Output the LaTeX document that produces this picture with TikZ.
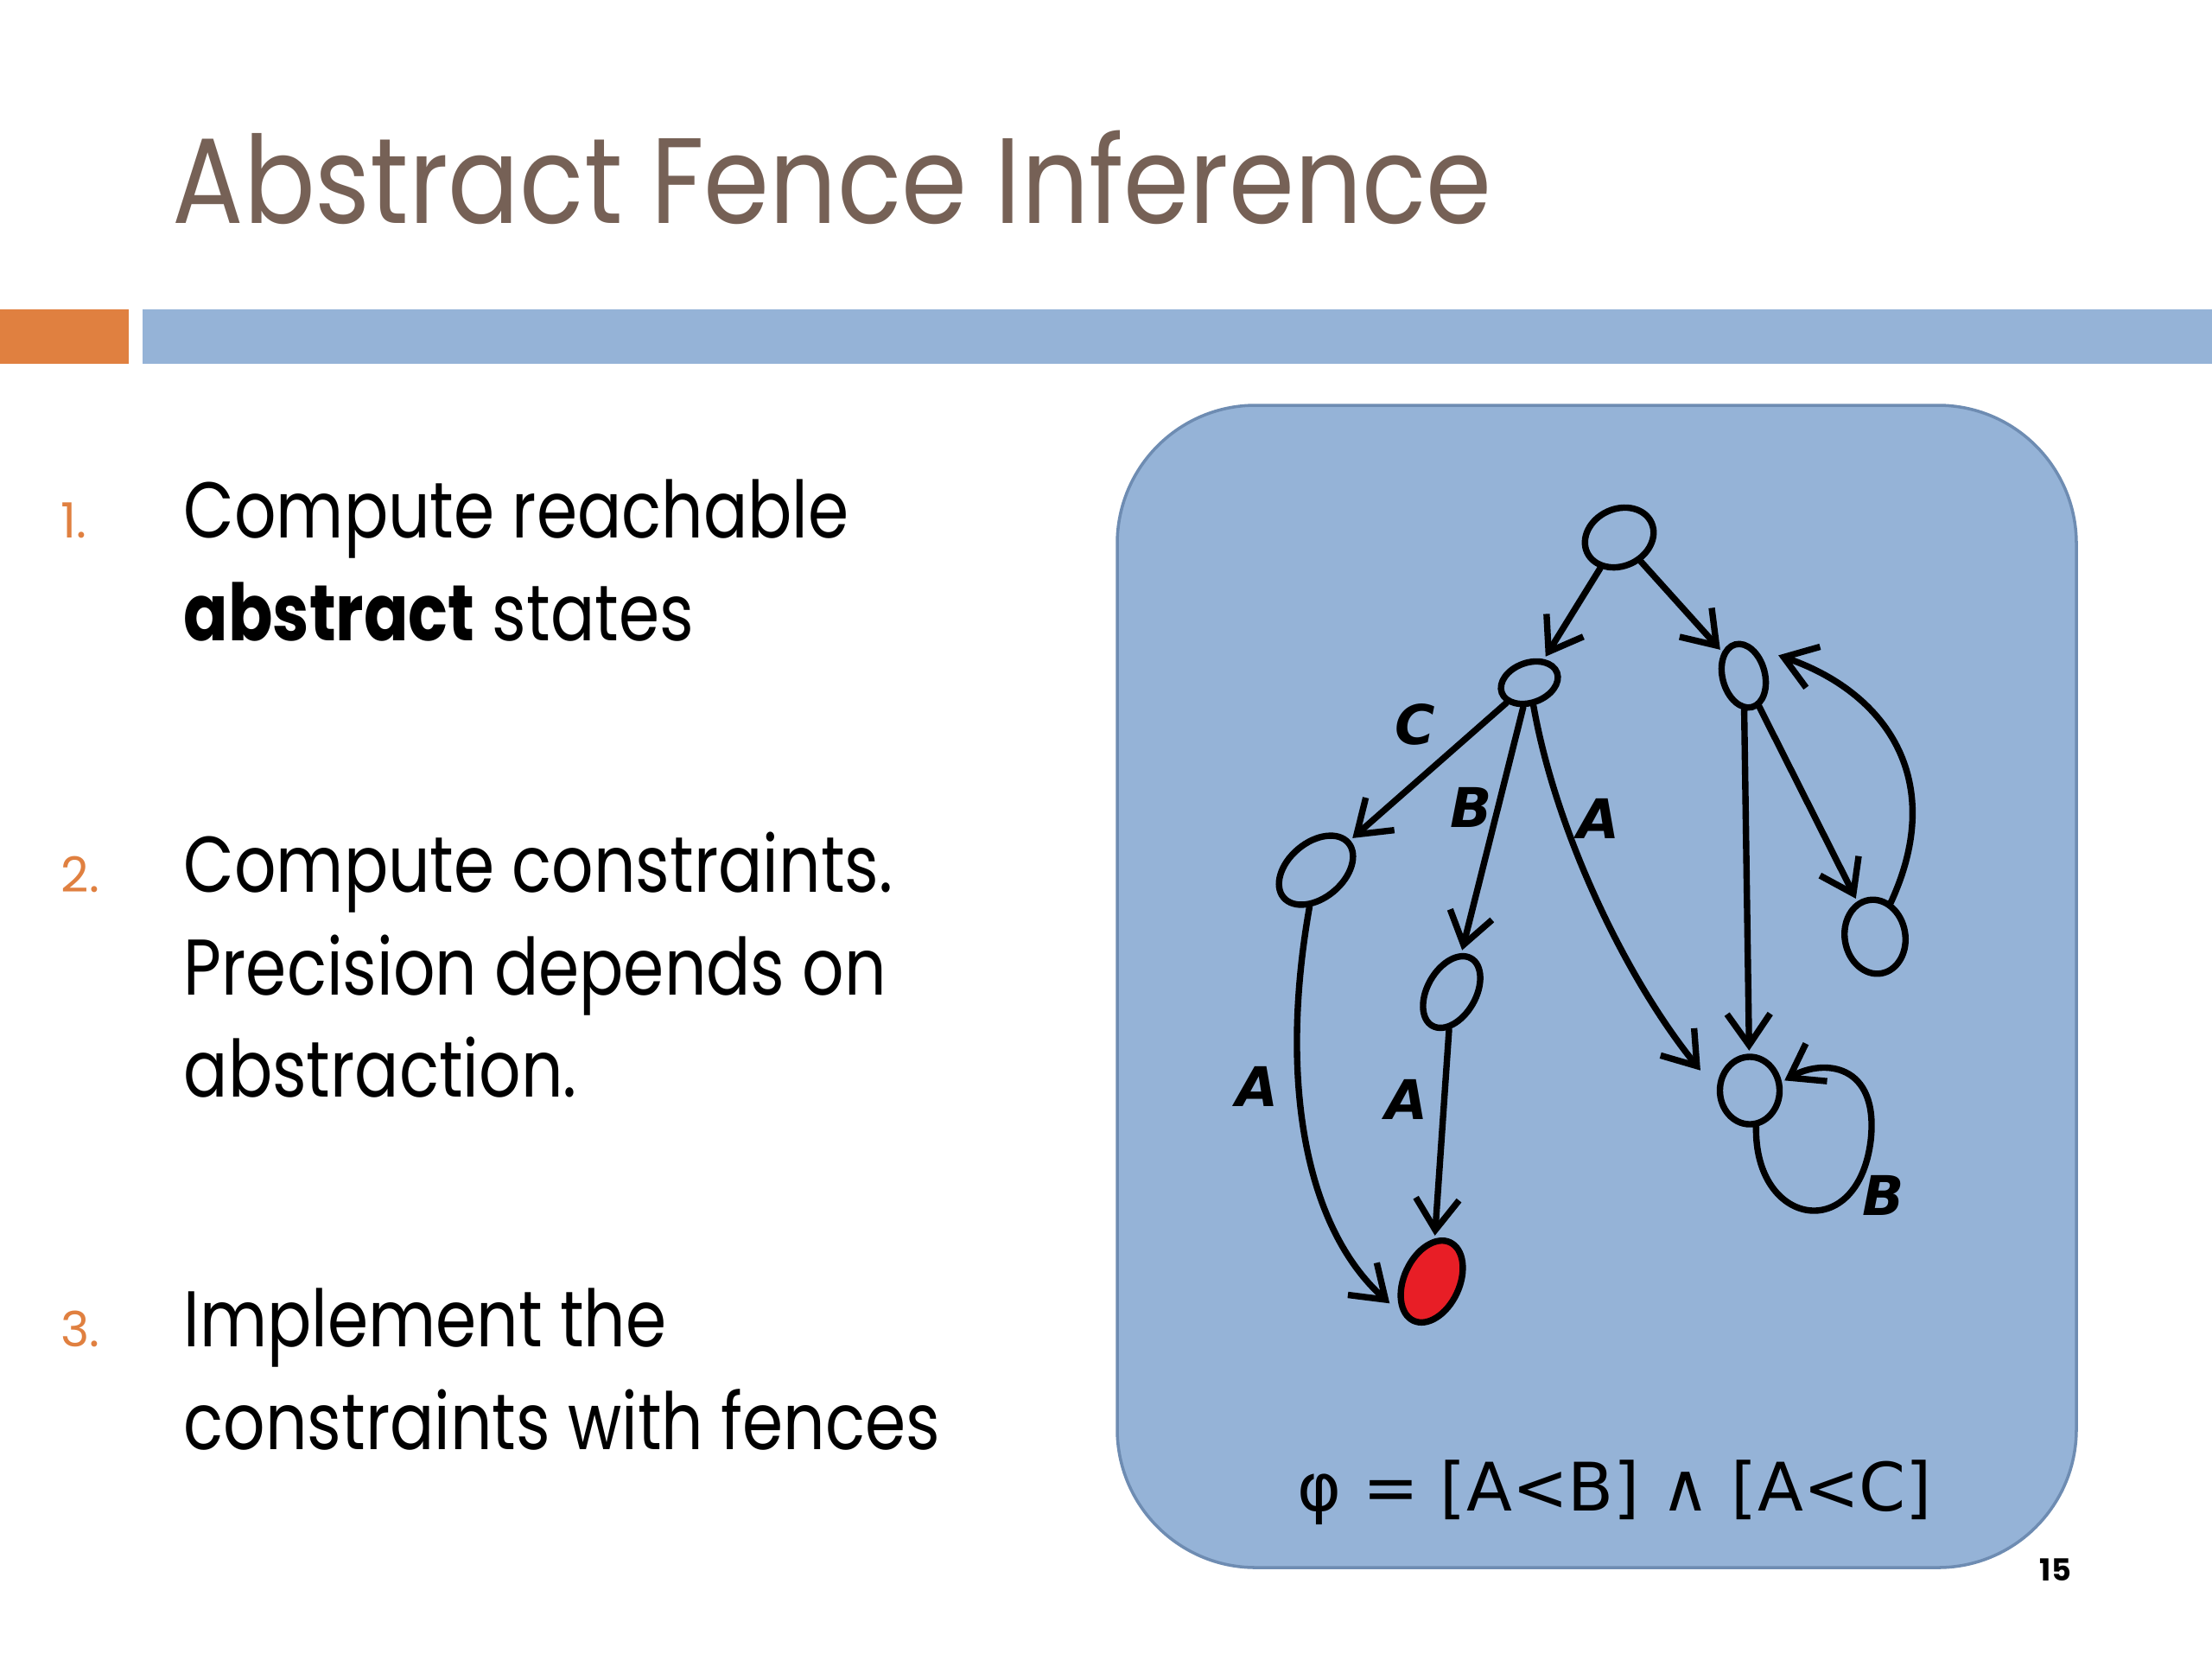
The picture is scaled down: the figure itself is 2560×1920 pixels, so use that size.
\documentclass[tikz,border=0pt]{standalone}
\usepackage{fontspec}
\setmainfont{Poppins}
\newfontfamily\titlefont{Poppins}[FakeStretch=0.87]
\newfontfamily\bodyfont{Poppins}[FakeStretch=0.83]
\newfontfamily\handfont{DejaVu Sans}
\usetikzlibrary{shapes.geometric,arrows.meta}
\definecolor{titlebrown}{RGB}{118,97,86}
\definecolor{accent}{RGB}{224,128,64}
\definecolor{barblue}{RGB}{149,179,215}
\definecolor{paneledge}{RGB}{110,140,178}
\definecolor{fault}{RGB}{232,30,38}
\begin{document}
\begin{tikzpicture}[x=0.01cm,y=0.01cm,
  state/.style={draw=black, line width=2.1pt, ellipse, inner sep=0pt},
  trans/.style={draw=black, line width=2.1pt, line cap=round, -{Straight Barb[length=0.36cm,width=0.5cm]}, shorten >=1pt},
  lbl/.style={font=\handfont\fontsize{18}{20}\selectfont\bfseries\itshape, inner sep=0pt},
  item/.style={anchor=base west, inner sep=0pt, font=\bodyfont\fontsize{26}{32}\selectfont},
  num/.style={anchor=base west, inner sep=0pt, text=accent, font=\fontsize{16}{19}\selectfont}
]
\useasboundingbox (0,0) rectangle (2560,-1920);
\fill[white] (0,0) rectangle (2560,-1920);
% title and bars
\node[anchor=base west, inner sep=0pt, text=titlebrown, font=\titlefont\fontsize{40}{48}\selectfont] (title) at (199,-258) {Abstract Fence Inference};
\fill[accent] (0,-358) rectangle (149,-421);
\fill[barblue] (165,-358) rectangle (2560,-421);
% list
\node[num] (n1lab) at (70,-622) {1.};
\node[item] (l1a) at (212,-622) {Compute reachable};
\node[item] (l1b) at (212,-741) {\textbf{abstract} states};
\node[num] (n2lab) at (70,-1032) {2.};
\node[item] (l2a) at (212,-1032) {Compute constraints.};
\node[item] (l2b) at (212,-1151) {Precision depends on};
\node[item] (l2c) at (212,-1269) {abstraction.};
\node[num] (n3lab) at (70,-1558) {3.};
\node[item] (l3a) at (212,-1558) {Implement the};
\node[item] (l3b) at (212,-1677) {constraints with fences};
% panel
\draw[fill=barblue, draw=paneledge, line width=1pt, rounded corners=1.6cm] (1293,-469) rectangle (2403,-1814);
% states
\node[state, minimum width=0.82cm, minimum height=0.66cm, rotate=25] (root) at (1874,-622) {};
\node[state, minimum width=0.68cm, minimum height=0.46cm, rotate=20] (n1) at (1770,-790) {};
\node[state, minimum width=0.49cm, minimum height=0.75cm, rotate=15] (n2) at (2018,-782) {};
\node[state, minimum width=0.98cm, minimum height=0.64cm, rotate=40] (n3) at (1523,-1007) {};
\node[state, minimum width=0.90cm, minimum height=0.56cm, rotate=60] (n4) at (1680,-1148) {};
\node[state, minimum width=0.70cm, minimum height=0.86cm, rotate=10] (n5) at (2170,-1084) {};
\node[state, minimum width=0.69cm, minimum height=0.78cm] (n6) at (2025,-1262) {};
\node[state, fill=fault, minimum width=1.0cm, minimum height=0.64cm, rotate=65] (red) at (1657,-1483) {};
% transitions
\draw[trans] (root) -- (n1);
\draw[trans] (root) -- (n2);
\draw[trans] (n1) -- (n3);
\draw[trans] (n1) -- (n4);
\draw[trans, shorten >=0.3cm] (n1) .. controls (1800,-960) and (1880,-1130) .. (n6.west);
\draw[trans, shorten >=0.35cm] (n3) .. controls (1480,-1250) and (1510,-1420) .. (red.west);
\draw[trans] (n4) -- (red);
\draw[trans] (n2) -- (n6);
\draw[trans] (n2) -- (n5);
\draw[trans, shorten >=0.3cm] (n5) .. controls (2255,-900) and (2180,-800) .. (n2.north east);
\draw[trans] (n6.-80) .. controls (2030,-1420) and (2150,-1440) .. (2165,-1320) .. controls (2175,-1230) and (2110,-1225) .. (n6.15);
% labels
\node[lbl] (lc) at (1638,-838) {C};
\node[lbl] (lb1) at (1703,-934) {B};
\node[lbl] (la1) at (1850,-947) {A};
\node[lbl] (la2) at (1455,-1257) {A};
\node[lbl] (la3) at (1628,-1272) {A};
\node[lbl] (lb2) at (2180,-1383) {B};
\node[inner sep=0pt, font=\handfont\fontsize{22}{26}\selectfont] (phi) at (1869,-1727) {φ = [A<B] ∧ [A<C]};
\node[inner sep=0pt, font=\fontsize{10}{12}\selectfont\bfseries] (pg) at (2379,-1817) {15};
\end{tikzpicture}
\end{document}
